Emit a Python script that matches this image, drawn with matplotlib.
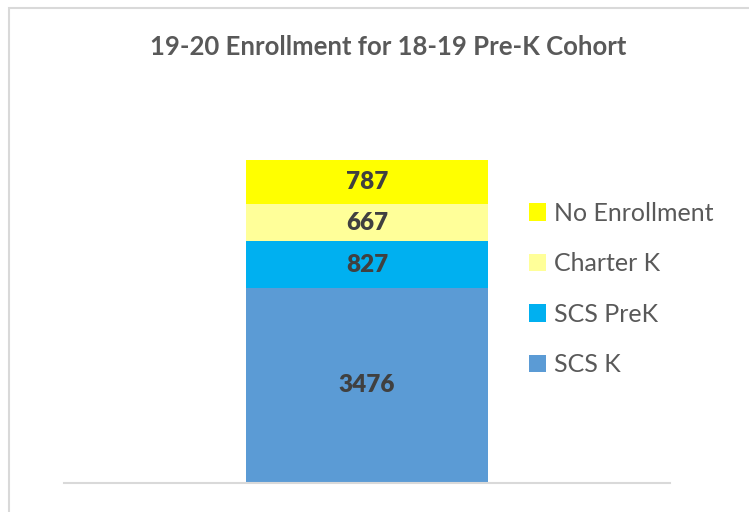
import matplotlib.pyplot as plt
from matplotlib.patches import Rectangle

# Data
category = ["18-19 Pre-K"]
series = ["SCS K", "SCS PreK", "Charter K", "No Enrollment"]
values = [3476, 827, 667, 787]
colors = ["#5B9BD5", "#00B0F0", "#FFFF99", "#FFFF00"]

plt.rcParams["font.family"] = ["Lato", "DejaVu Sans"]

W, H = 749, 512
fig = plt.figure(figsize=(W / 100, H / 100), dpi=100)
fig.patch.set_facecolor("white")

# chart frame (light gray border, runs off the right/bottom edge)
fig.patches.append(Rectangle((9 / W, -0.1), 1.2, 1 - 8 / H + 0.1,
                             transform=fig.transFigure, fill=False,
                             edgecolor="#D9D9D9", linewidth=1.5))

ax = fig.add_axes([64 / W, 1 - 483 / H, 606 / W, (483 - 90) / H])

bottom = 0
for name, v, c in zip(series, values, colors):
    ax.bar(0, v, width=0.4, bottom=bottom, color=c, label=name)
    ax.text(0, bottom + v / 2, f"{v}", ha="center", va="center",
            fontsize=17.5, fontweight="heavy", color="#404040")
    bottom += v

ax.set_xlim(-0.5, 0.5)
ax.set_ylim(0, 7000)
ax.set_xticks([])
ax.set_yticks([])
for s in ["top", "right", "left"]:
    ax.spines[s].set_visible(False)
ax.spines["bottom"].set_color("#D9D9D9")
ax.spines["bottom"].set_linewidth(1.5)

fig.text(388 / W, 1 - 47 / H, "19-20 Enrollment for 18-19 Pre-K Cohort",
         ha="center", va="center", fontsize=18.5, fontweight="bold",
         color="#595959")

handles, labels = ax.get_legend_handles_labels()
leg = fig.legend(handles[::-1], labels[::-1], loc="center left",
                 bbox_to_anchor=(506 / W, 1 - 289 / H), frameon=False,
                 fontsize=18, labelcolor="#595959", handlelength=0.68,
                 handleheight=0.68, handletextpad=0.35, labelspacing=1.1)

fig.savefig("out.png", dpi=100)
